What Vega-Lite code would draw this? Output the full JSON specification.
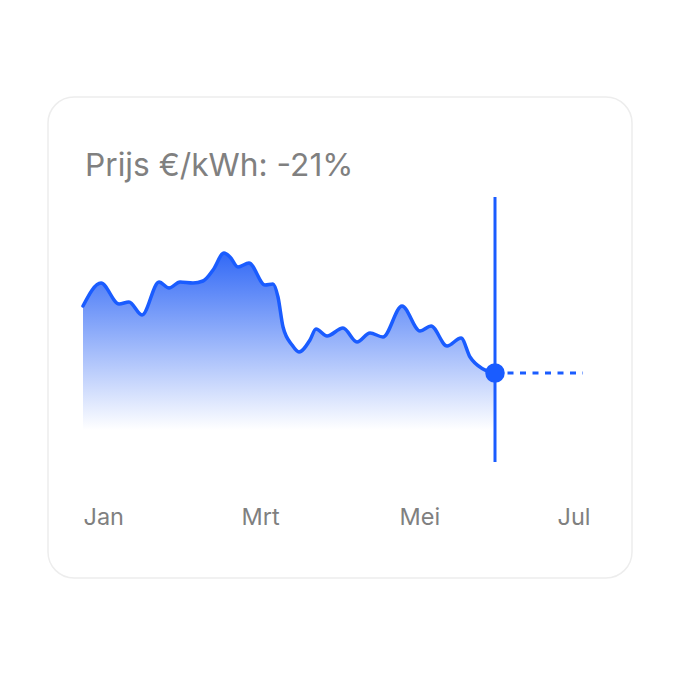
{
  "$schema": "https://vega.github.io/schema/vega-lite/v6.json",
  "width": 584,
  "height": 481,
  "autosize": {"type": "none"},
  "padding": {"left": 48, "top": 97, "right": 48, "bottom": 98},
  "background": "#ffffff",
  "config": {
    "view": {"fill": "#ffffff", "stroke": "#ededed", "strokeWidth": 1.5, "cornerRadius": 26},
    "font": "Inter"
  },
  "title": {
    "text": "Prijs €/kWh: -21%",
    "anchor": "start",
    "frame": "group",
    "orient": "top",
    "offset": 0,
    "baseline": "alphabetic",
    "dx": 37,
    "dy": 111,
    "fontSize": 31.7,
    "fontWeight": "normal",
    "color": "#808080",
    "font": "Inter"
  },
  "datasets": {
    "series": [
      {"m": 0.0, "price": 0.272},
      {"m": 0.228, "price": 0.295},
      {"m": 0.456, "price": 0.274},
      {"m": 0.582, "price": 0.276},
      {"m": 0.747, "price": 0.263},
      {"m": 0.962, "price": 0.296},
      {"m": 1.089, "price": 0.290},
      {"m": 1.228, "price": 0.296},
      {"m": 1.392, "price": 0.295},
      {"m": 1.519, "price": 0.297},
      {"m": 1.646, "price": 0.308},
      {"m": 1.785, "price": 0.325},
      {"m": 1.861, "price": 0.321},
      {"m": 1.962, "price": 0.311},
      {"m": 2.101, "price": 0.315},
      {"m": 2.304, "price": 0.293},
      {"m": 2.405, "price": 0.294},
      {"m": 2.468, "price": 0.281},
      {"m": 2.532, "price": 0.251},
      {"m": 2.646, "price": 0.233},
      {"m": 2.734, "price": 0.226},
      {"m": 2.873, "price": 0.238},
      {"m": 2.949, "price": 0.249},
      {"m": 3.089, "price": 0.242},
      {"m": 3.291, "price": 0.250},
      {"m": 3.468, "price": 0.236},
      {"m": 3.633, "price": 0.245},
      {"m": 3.797, "price": 0.241},
      {"m": 4.038, "price": 0.272},
      {"m": 4.266, "price": 0.247},
      {"m": 4.405, "price": 0.252},
      {"m": 4.608, "price": 0.232},
      {"m": 4.785, "price": 0.240},
      {"m": 4.899, "price": 0.221},
      {"m": 5.063, "price": 0.209},
      {"m": 5.215, "price": 0.205}
    ],
    "marker": [
      {"m": 5.215, "price": 0.205, "top": 0.381, "bottom": 0.116}
    ],
    "forecast": [
      {"m": 5.215, "price": 0.205},
      {"m": 6.329, "price": 0.205}
    ]
  },
  "encoding": {
    "x": {
      "field": "m",
      "type": "quantitative",
      "scale": {"domain": [-0.443, 6.949], "nice": false, "zero": false},
      "axis": {
        "values": [0, 2, 4, 6],
        "labelExpr": "['Jan','Feb','Mrt','Apr','Mei','Jun','Jul'][datum.value]",
        "orient": "bottom",
        "offset": -74,
        "domain": false,
        "ticks": false,
        "grid": false,
        "title": null,
        "labelAlign": "left",
        "labelBaseline": "top",
        "labelPadding": 1,
        "labelFontSize": 23.5,
        "labelColor": "#808080",
        "labelFont": "Inter",
        "labelFlush": false,
        "labelOverlap": false
      }
    }
  },
  "layer": [
    {
      "data": {"name": "series"},
      "mark": {
        "type": "area",
        "interpolate": "monotone",
        "fill": {
          "gradient": "linear",
          "x1": 1, "y1": 1, "x2": 1, "y2": 0,
          "stops": [
            {"offset": 0, "color": "#ffffff"},
            {"offset": 1, "color": "#3269f6"}
          ]
        }
      },
      "encoding": {
        "y": {"field": "price", "type": "quantitative", "scale": {"domain": [0, 0.481], "nice": false, "zero": false}, "axis": null},
        "y2": {"datum": 0.148}
      }
    },
    {
      "data": {"name": "series"},
      "mark": {"type": "line", "interpolate": "monotone", "color": "#1a5cff", "strokeWidth": 3.5, "strokeCap": "round", "strokeJoin": "round"},
      "encoding": {
        "y": {"field": "price", "type": "quantitative"}
      }
    },
    {
      "data": {"name": "forecast"},
      "mark": {"type": "line", "color": "#1a5cff", "strokeWidth": 3, "strokeDash": [6, 6.5]},
      "encoding": {
        "y": {"field": "price", "type": "quantitative"}
      }
    },
    {
      "data": {"name": "marker"},
      "mark": {"type": "rule", "color": "#1a5cff", "strokeWidth": 3},
      "encoding": {
        "y": {"field": "top", "type": "quantitative"},
        "y2": {"field": "bottom"}
      }
    },
    {
      "data": {"name": "marker"},
      "mark": {"type": "point", "filled": true, "color": "#1a5cff", "opacity": 1, "size": 380},
      "encoding": {
        "y": {"field": "price", "type": "quantitative"}
      }
    }
  ]
}
